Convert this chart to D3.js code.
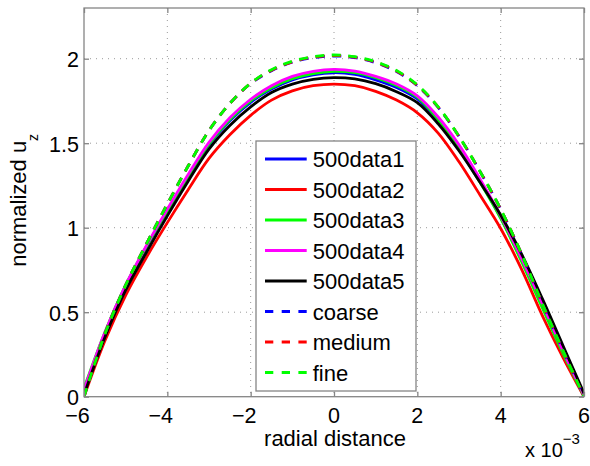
<!DOCTYPE html>
<html><head><meta charset="utf-8">
<script src="https://cdn.jsdelivr.net/npm/d3@7"></script>
<style>body{margin:0;background:#fff}svg{display:block}text{font-family:"Liberation Sans",Arial,sans-serif;fill:#000}</style>
</head><body><svg id="c" width="590" height="466"></svg>
<script>
const xs = [-6,-5.5,-5,-4.5,-4,-3.5,-3,-2.5,-2,-1.5,-1,-0.5,0,0.5,1,1.5,2,2.5,3,3.5,4,4.5,5,5.5,6];
const data1 = [0.03,0.37,0.655,0.885,1.098,1.302,1.49,1.633,1.742,1.82,1.875,1.905,1.917,1.907,1.875,1.83,1.762,1.638,1.475,1.278,1.06,0.81,0.545,0.265,0.0];
const data2 = [0.0,0.33,0.60,0.825,1.03,1.225,1.41,1.55,1.665,1.755,1.81,1.84,1.85,1.84,1.807,1.755,1.68,1.56,1.39,1.195,0.995,0.755,0.48,0.23,0.0];
const data3 = [0.05,0.38,0.66,0.89,1.10,1.305,1.495,1.64,1.75,1.828,1.882,1.912,1.925,1.918,1.888,1.842,1.772,1.64,1.465,1.27,1.055,0.80,0.525,0.255,0.005];
const data4 = [0.04,0.38,0.66,0.895,1.11,1.315,1.505,1.65,1.76,1.84,1.895,1.925,1.937,1.927,1.895,1.85,1.78,1.655,1.49,1.29,1.07,0.82,0.55,0.27,0.01];
const data5 = [0.01,0.35,0.63,0.855,1.07,1.275,1.465,1.605,1.715,1.80,1.85,1.878,1.888,1.88,1.852,1.805,1.74,1.615,1.455,1.27,1.075,0.845,0.58,0.30,0.02];
const coarse = [0.0,0.37,0.66,0.905,1.14,1.365,1.575,1.735,1.853,1.929,1.979,2.006,2.016,2.006,1.976,1.924,1.84,1.712,1.54,1.335,1.11,0.845,0.55,0.27,0.0];
const medium = [0.0,0.37,0.66,0.905,1.14,1.365,1.575,1.735,1.854,1.932,1.982,2.009,2.019,2.009,1.979,1.927,1.842,1.714,1.54,1.335,1.11,0.845,0.55,0.27,0.0];
const fine = [0.0,0.37,0.66,0.905,1.14,1.365,1.575,1.735,1.855,1.935,1.985,2.012,2.022,2.012,1.982,1.93,1.845,1.715,1.54,1.335,1.11,0.845,0.55,0.27,0.0];
const seriesNames = ["500data1","500data2","500data3","500data4","500data5","coarse","medium","fine"];
const seriesValues = [data1,data2,data3,data4,data5,coarse,medium,fine];
const seriesColors = ["#0000ff","#ff0000","#00ff00","#ff00ff","#000000","#0000ff","#ff0000","#00ff00"];
const seriesDashed = [false,false,false,false,false,true,true,true];
const xTicks = [-6,-4,-2,0,2,4,6];
const yTicks = [0,0.5,1,1.5,2];
const yTickLabels = ["0","0.5","1","1.5","2"];

const svg = d3.select("#c");
const L=84, R=584, T=8, B=396.7;
const x = d3.scaleLinear().domain([-6,6]).range([L,R]);
const y = d3.scaleLinear().domain([0,2.3]).range([B,T]);
const axisCol = "#858585";
const fs = 22;
const lw = 2.8;
const dash = "9,7.5";

// grid
const g = svg.append("g");
g.selectAll(".gx").data(xTicks.slice(1,-1)).join("line")
  .attr("x1",d=>x(d)).attr("x2",d=>x(d)).attr("y1",T).attr("y2",B)
  .attr("stroke","#9a9a9a").attr("stroke-width",1).attr("stroke-dasharray","1,5");
g.selectAll(".gy").data(yTicks.slice(1)).join("line")
  .attr("y1",d=>y(d)).attr("y2",d=>y(d)).attr("x1",L).attr("x2",R)
  .attr("stroke","#9a9a9a").attr("stroke-width",1).attr("stroke-dasharray","1,5");

// lines
const line = d3.line().x((d,i)=>x(xs[i])).y(d=>y(d)).curve(d3.curveCatmullRom.alpha(0.5));
svg.append("clipPath").attr("id","cp").append("rect").attr("x",L).attr("y",T).attr("width",R-L).attr("height",B-T);
const lg = svg.append("g").attr("clip-path","url(#cp)");
seriesValues.forEach((v,i)=>{
  lg.append("path").attr("d",line(v)).attr("fill","none")
    .attr("stroke",seriesColors[i]).attr("stroke-width",lw)
    .attr("stroke-dasharray",seriesDashed[i]?dash:null);
});

// axes box + inward ticks
const ax = svg.append("g");
ax.append("rect").attr("x",L).attr("y",T).attr("width",R-L).attr("height",B-T)
  .attr("fill","none").attr("stroke",axisCol).attr("stroke-width",1.3);
const xb = d3.axisBottom(x).tickValues(xTicks).tickSize(-5).tickFormat("");
const xt = d3.axisTop(x).tickValues(xTicks).tickSize(-5).tickFormat("");
const yl = d3.axisLeft(y).tickValues(yTicks).tickSize(-5).tickFormat("");
const yr = d3.axisRight(y).tickValues(yTicks).tickSize(-5).tickFormat("");
[[xb,`translate(0,${B})`],[xt,`translate(0,${T})`],[yl,`translate(${L},0)`],[yr,`translate(${R},0)`]].forEach(([a,t])=>{
  const gg = ax.append("g").attr("transform",t).call(a);
  gg.select(".domain").remove();
  gg.selectAll("line").attr("stroke",axisCol).attr("stroke-width",1.3);
});

// tick labels
svg.append("g").selectAll("text").data(xTicks).join("text")
  .attr("x",d=>x(d)+(d<0?-6.5:0)).attr("y",423).attr("text-anchor","middle")
  .attr("font-size",21.5).text(d=>d<0?"\u2212"+Math.abs(d):String(d));
svg.append("g").selectAll("text").data(yTicks).join("text")
  .attr("x",79).attr("y",d=>y(d)+8.5).attr("text-anchor","end")
  .attr("font-size",21.5).text((d,i)=>yTickLabels[i]);

// axis labels
svg.append("text").attr("x",(L+R)/2+1).attr("y",446).attr("text-anchor","middle").attr("font-size",fs).text("radial distance");
const yt = svg.append("text").attr("transform",`translate(25.5,${(T+B)/2-2}) rotate(-90)`).attr("text-anchor","middle").attr("font-size",fs);
yt.append("tspan").text("normalized u");
yt.append("tspan").attr("font-size",14).attr("dy",12).text("z");
const ex = svg.append("text").attr("x",525).attr("y",457).attr("font-size",20);
ex.append("tspan").text("x 10");
ex.append("tspan").attr("font-size",15).attr("dy",-13).text("\u22123");

// legend
const leg = svg.append("g");
leg.append("rect").attr("x",256).attr("y",141).attr("width",160).attr("height",250)
  .attr("fill","#fff").attr("stroke",axisCol).attr("stroke-width",1.3);
seriesNames.forEach((n,i)=>{
  const cy = 159 + i*30.5;
  leg.append("line").attr("x1",265).attr("x2",306.7).attr("y1",cy).attr("y2",cy)
    .attr("stroke",seriesColors[i]).attr("stroke-width",lw)
    .attr("stroke-dasharray",seriesDashed[i]?"8.3,8.4":null);
  leg.append("text").attr("x",312.7).attr("y",cy+8).attr("font-size",fs).text(n);
});
</script></body></html>
